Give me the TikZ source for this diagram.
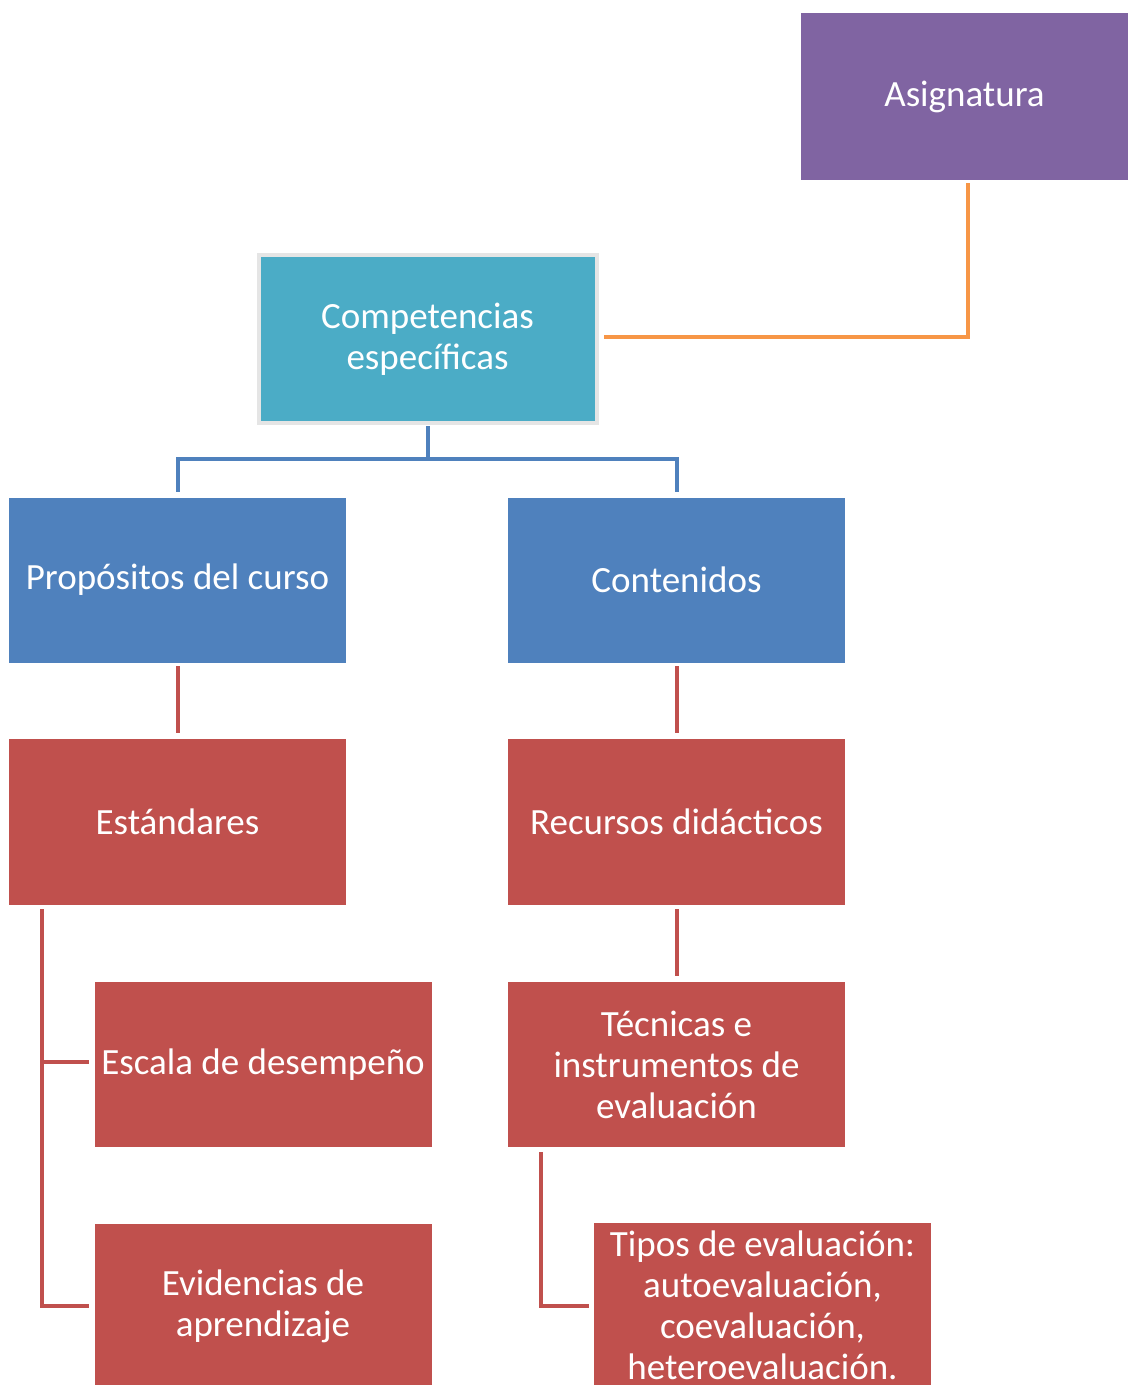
\documentclass[tikz,border=0pt]{standalone}
\usepackage{fontspec}
\setmainfont{Carlito}
\definecolor{cpurple}{HTML}{8064A2}
\definecolor{cteal}{HTML}{4BACC6}
\definecolor{cblue}{HTML}{4F81BD}
\definecolor{cred}{HTML}{C0504D}
\definecolor{corange}{HTML}{F79646}
\begin{document}
\begin{tikzpicture}[x=1pt,y=-1pt,
  box/.style={rectangle, inner sep=0pt, minimum width=337pt, minimum height=165pt,
    text=white, align=center, font=\fontsize{37}{41}\selectfont},
  redbox/.style={box, fill=cred},
  bluebox/.style={box, fill=cblue},
  conn/.style={line width=4pt},
  redconn/.style={conn, draw=cred},
  blueconn/.style={conn, draw=cblue}]
\useasboundingbox (0,0) rectangle (1128,1385);
\clip (0,0) rectangle (1128,1385);
\node[box, fill=cpurple, minimum width=327pt, minimum height=167pt] (asig) at (964.5,96.5) {Asignatura};
\node[box, fill=cteal, draw=black!10, line width=4pt, minimum width=338pt, minimum height=168pt] (comp) at (427.5,339) {Competencias\\específicas};
\node[bluebox] (prop) at (177.5,580) {Propósitos del curso};
\node[bluebox] (cont) at (676.5,580) {Contenidos};
\node[redbox, minimum height=166pt] (est) at (177.5,822) {Estándares};
\node[redbox, minimum height=166pt] (rec) at (676.5,822) {Recursos didácticos};
\node[redbox] (esc) at (263,1064.5) {Escala de desempeño};
\node[redbox] (tec) at (676.5,1064.5) {Técnicas e\\instrumentos de\\evaluación};
\node[redbox] (evi) at (263,1306.5) {Evidencias de\\aprendizaje};
\node[redbox] (tip) at (762.5,1305.5) {Tipos de evaluación:\\autoevaluación,\\coevaluación,\\heteroevaluación.};
% orange
\draw[conn, draw=corange] ([xshift=3.5pt]asig.south |- 0,183) |- ([xshift=5pt]comp.east |- 0,337);
% blue tree
\coordinate (bj) at (427.5,459);
\draw[blueconn] (comp.south |- 0,426) -- (bj);
\draw[blueconn] (bj) -| (prop.north |- 0,492);
\draw[blueconn] (bj) -| (cont.north |- 0,492);
% red verticals
\draw[redconn] (prop.south |- 0,666) -- (prop.south |- 0,733);
\draw[redconn] (cont.south |- 0,666) -- (cont.south |- 0,733);
\draw[redconn] (rec.south |- 0,909) -- (rec.south |- 0,976);
% estandares bracket
\coordinate (e1) at (42,909);
\draw[redconn] (e1) |- ([xshift=-5pt]evi.west |- 0,1306);
\draw[redconn] (e1 |- 0,1062) -- ([xshift=-5pt]esc.west |- 0,1062);
% tecnicas bracket
\coordinate (t1) at (541,1152);
\draw[redconn] (t1) |- ([xshift=-5pt]tip.west |- 0,1306);
\end{tikzpicture}
\end{document}
